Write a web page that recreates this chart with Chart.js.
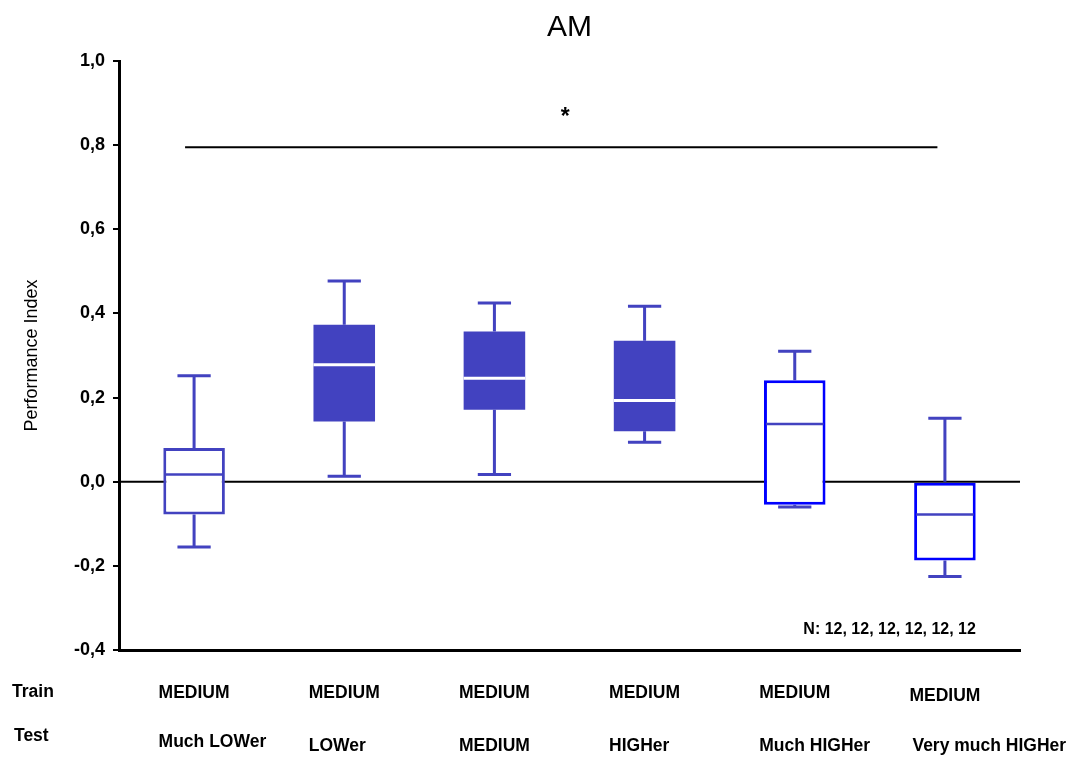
<!DOCTYPE html>
<html>
<head>
<meta charset="utf-8">
<title>AM</title>
<script src="https://cdn.jsdelivr.net/npm/chart.js@4"></script>
<style>
  html, body { margin: 0; padding: 0; background: #fff; }
  #wrap { width: 1078px; height: 758px; }
</style>
</head>
<body>
<div id="wrap"><canvas id="box-chart" width="1078" height="758"></canvas></div>
<script>
// Categories (Test condition) and the Train row under them
const testLabels = ['Much LOWer', 'LOWer', 'MEDIUM', 'HIGHer', 'Much HIGHer', 'Very much HIGHer'];
const trainLabels = ['MEDIUM', 'MEDIUM', 'MEDIUM', 'MEDIUM', 'MEDIUM', 'MEDIUM'];

// Box plot values
const whiskerLow  = [-0.155, 0.013, 0.017, 0.094, -0.060, -0.225];
const quart1      = [-0.078, 0.143, 0.171, 0.120, -0.055, -0.187];
const medians     = [ 0.017, 0.278, 0.246, 0.193,  0.137, -0.078];
const quart3      = [ 0.080, 0.373, 0.357, 0.335,  0.241,  0.000];
const whiskerHigh = [ 0.252, 0.477, 0.425, 0.417,  0.310,  0.151];

// Filled boxes vs hollow boxes
const filled = [false, true, true, true, false, false];

// Y axis ticks
const yTicks = [-0.4, -0.2, 0.0, 0.2, 0.4, 0.6, 0.8, 1.0];

// Significance bar (from category, to category, level) and note
const sigFrom = -0.06;
const sigTo = 4.95;
const sigLevel = 0.795;
const sigMark = '*';
const sigMarkLevel = 0.872;
const nNote = 'N: 12, 12, 12, 12, 12, 12';
const nNoteLevel = -0.352;

const FONT = '"Liberation Sans", Arial, sans-serif';
const BOX_BLUE = '#4242C0';
const EDGE_BLUE = '#0000FF';

const boxExtras = {
    id: 'boxExtras',
    beforeDatasetsDraw(chart) {
        const { ctx, chartArea, scales: { x, y } } = chart;
        ctx.save();
        // zero line
        ctx.strokeStyle = '#000';
        ctx.lineWidth = 2;
        ctx.beginPath();
        ctx.moveTo(chartArea.left, y.getPixelForValue(0));
        ctx.lineTo(chartArea.right, y.getPixelForValue(0));
        ctx.stroke();
        // significance line
        ctx.lineWidth = 2;
        ctx.beginPath();
        ctx.moveTo(x.getPixelForValue(sigFrom), y.getPixelForValue(sigLevel));
        ctx.lineTo(x.getPixelForValue(sigTo), y.getPixelForValue(sigLevel));
        ctx.stroke();
        ctx.restore();
    },
    afterDatasetsDraw(chart) {
        const { ctx, chartArea, scales: { x, y } } = chart;
        const meta = chart.getDatasetMeta(0);
        ctx.save();
        ctx.lineCap = 'butt';
        for (let i = 0; i < testLabels.length; i++) {
            const cx = x.getPixelForValue(i);
            const bw = meta.data[i].width;
            const cap = bw * 0.27;
            // whiskers
            ctx.strokeStyle = BOX_BLUE;
            ctx.lineWidth = 3;
            ctx.beginPath();
            ctx.moveTo(cx, y.getPixelForValue(quart3[i]));
            ctx.lineTo(cx, y.getPixelForValue(whiskerHigh[i]));
            ctx.moveTo(cx - cap, y.getPixelForValue(whiskerHigh[i]));
            ctx.lineTo(cx + cap, y.getPixelForValue(whiskerHigh[i]));
            ctx.moveTo(cx, y.getPixelForValue(quart1[i]));
            ctx.lineTo(cx, y.getPixelForValue(whiskerLow[i]));
            ctx.moveTo(cx - cap, y.getPixelForValue(whiskerLow[i]));
            ctx.lineTo(cx + cap, y.getPixelForValue(whiskerLow[i]));
            ctx.stroke();
            // median
            ctx.strokeStyle = filled[i] ? '#ffffff' : BOX_BLUE;
            ctx.lineWidth = filled[i] ? 3 : 2.5;
            const inset = filled[i] ? 0 : 2;
            ctx.beginPath();
            ctx.moveTo(cx - bw / 2 + inset, y.getPixelForValue(medians[i]));
            ctx.lineTo(cx + bw / 2 - inset, y.getPixelForValue(medians[i]));
            ctx.stroke();
        }

        ctx.fillStyle = '#000';
        // asterisk
        ctx.font = 'bold 23px ' + FONT;
        ctx.textAlign = 'center';
        ctx.textBaseline = 'middle';
        ctx.fillText(sigMark, (x.getPixelForValue(sigFrom) + x.getPixelForValue(sigTo)) / 2 + 4, y.getPixelForValue(sigMarkLevel) + 3);

        // N note
        ctx.font = 'bold 16px ' + FONT;
        ctx.textAlign = 'right';
        ctx.fillText(nNote, x.getPixelForValue(5) + 31, y.getPixelForValue(nNoteLevel));

        // Train / Test rows
        ctx.font = 'bold 17.5px ' + FONT;
        ctx.textAlign = 'left';
        const row1 = chartArea.bottom + 43;
        const row2 = chartArea.bottom + 96;
        ctx.fillText('Train', 12, chartArea.bottom + 42);
        ctx.fillText('Test', 14, chartArea.bottom + 86);
        for (let i = 0; i < testLabels.length; i++) {
            const cx = x.getPixelForValue(i);
            const left = cx - ctx.measureText(trainLabels[i]).width / 2;
            ctx.fillText(trainLabels[i], left, row1 + (i === 5 ? 3 : 0));
            ctx.fillText(testLabels[i], left + (i === 5 ? 3 : 0), row2 + (i === 0 ? -4 : 0));
        }
        ctx.restore();
    }
};

new Chart(document.getElementById('box-chart'), {
    type: 'bar',
    data: {
        labels: testLabels,
        datasets: [{
            label: 'IQR',
            data: quart1.map((v, i) => [v, quart3[i]]),
            backgroundColor: filled.map(f => f ? BOX_BLUE : '#ffffff'),
            borderColor: filled.map((f, i) => f ? BOX_BLUE : (i === 0 ? BOX_BLUE : EDGE_BLUE)),
            borderWidth: filled.map((f, i) => f ? 0 : 3),
            borderSkipped: false,
            barPercentage: 0.41,
            categoryPercentage: 1
        }]
    },
    options: {
        responsive: false,
        animation: false,
        layout: { padding: { left: 0, right: 58, top: 0, bottom: 108 } },
        plugins: {
            legend: { display: false },
            tooltip: { enabled: false },
            title: {
                display: true,
                fullSize: false,
                text: 'AM',
                color: '#000',
                font: { family: FONT, size: 30, weight: 'normal' },
                padding: { top: 10, bottom: 15 }
            }
        },
        scales: {
            x: {
                offset: true,
                grid: { display: false },
                ticks: { display: false },
                border: { display: true, color: '#000', width: 3 },
                afterFit(scale) { scale.height = 0; }
            },
            y: {
                min: -0.4,
                max: 1.0,
                afterBuildTicks(scale) { scale.ticks = yTicks.map(v => ({ value: v })); },
                grid: { display: true, drawOnChartArea: false, drawTicks: true, tickLength: 6, lineWidth: 2, color: '#000' },
                border: { display: true, color: '#000', width: 3 },
                ticks: {
                    color: '#000',
                    padding: 8,
                    font: { family: FONT, size: 18, weight: 'bold' },
                    callback: v => (Math.abs(v) < 1e-9 ? 0 : v).toFixed(1).replace('.', ',')
                },
                title: {
                    display: true,
                    text: 'Performance Index',
                    color: '#000',
                    font: { family: FONT, size: 18, weight: 'normal' },
                    padding: { top: 21, bottom: 0 }
                },
                afterFit(scale) { scale.width = 119; }
            }
        }
    },
    plugins: [boxExtras]
});
</script>
</body>
</html>
